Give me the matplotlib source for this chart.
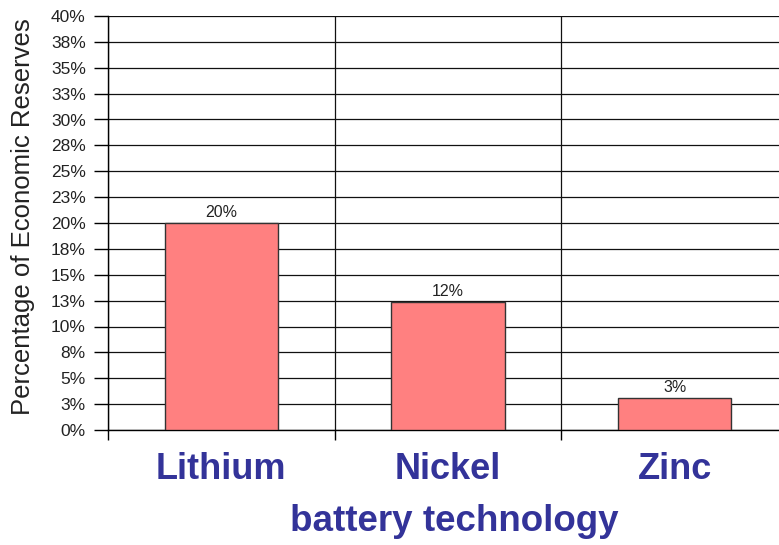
import numpy as np
import matplotlib.pyplot as plt

# data
categories = ['Lithium', 'Nickel', 'Zinc']
reserves = [20.0, 12.4, 3.1]          # percent
value_labels = ['20%', '12%', '3%']
ytick_vals = np.arange(0, 40.1, 2.5)
ytick_labels = ['0%', '3%', '5%', '8%', '10%', '13%', '15%', '18%', '20%',
                '23%', '25%', '28%', '30%', '33%', '35%', '38%', '40%']

plt.rcParams['font.family'] = ['Liberation Sans', 'DejaVu Sans']

fig = plt.figure(figsize=(7.79, 5.45), dpi=100)
ax = fig.add_axes([108/779, 1-430/545, 680/779, 414/545])

x = np.arange(len(categories))
ax.bar(x, reserves, width=0.5, color='#FF8080', edgecolor='#333333', linewidth=1, zorder=3)
for xi, v, lab in zip(x, reserves, value_labels):
    ax.text(xi, v + 0.3, lab, ha='center', va='bottom', fontsize=11.5, color='#222222')

ax.set_xlim(-0.5, 2.5)
ax.set_ylim(0, 40)
ax.set_yticks(ytick_vals)
ax.set_yticklabels(ytick_labels, fontsize=12.5, color='#222222')
ax.set_xticks([-0.5, 0.5, 1.5, 2.5])
ax.set_xticklabels([])
ax.set_xticks(x, minor=True)
ax.set_xticklabels(categories, minor=True, fontsize=26, fontweight='bold', color='#333399')
ax.tick_params(axis='x', which='minor', length=0, pad=16)
ax.tick_params(axis='x', which='major', length=7, width=1, direction='out')
ax.tick_params(axis='y', length=10, width=1, direction='out', pad=6)

ax.grid(True, which='major', color='#111111', linewidth=0.9, zorder=0)
ax.set_axisbelow(True)
for s in ['top', 'right']:
    ax.spines[s].set_visible(False)
ax.spines['left'].set_linewidth(1)
ax.spines['bottom'].set_linewidth(1)

ax.set_ylabel('Percentage of Economic Reserves', fontsize=18.5, color='#222222')
ax.yaxis.set_label_coords(-0.107, 0.515)
ax.set_xlabel('battery technology', fontsize=26.5, fontweight='bold', color='#333399')
ax.xaxis.set_label_coords(0.51, -0.178)

fig.savefig('out.png', dpi=100)
